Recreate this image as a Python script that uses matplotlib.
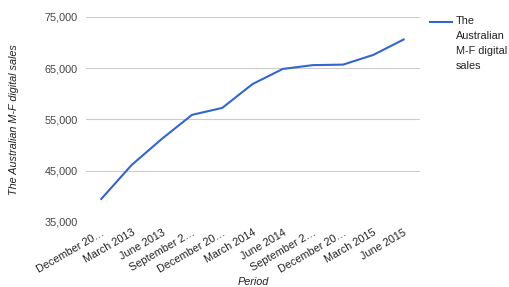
import matplotlib
matplotlib.use('Agg')
import matplotlib.pyplot as plt
from matplotlib.lines import Line2D

periods = ['December 20…', 'March 2013', 'June 2013', 'September 2…', 'December 20…',
           'March 2014', 'June 2014', 'September 2…', 'December 20…', 'March 2015', 'June 2015']
sales = [39500, 46100, 51200, 55900, 57250, 61900, 64850, 65600, 65700, 67600, 70600]
yticks = [35000, 45000, 55000, 65000, 75000]
series_name = 'The\nAustralian\nM-F digital\nsales'

plt.rcParams['font.family'] = ['Liberation Sans', 'DejaVu Sans']
fs = 7.8

W, H = 510, 287
fig = plt.figure(figsize=(W / 100, H / 100), dpi=100)
ax = fig.add_axes([0.169, 0.2265, 0.655, 0.7145])

x = list(range(len(periods)))
ax.plot(x, sales, color='#3366cc', linewidth=1.5)

ax.set_xlim(-0.5, 10.55)
ax.set_ylim(35000, 75000)
ax.set_yticks(yticks)
ax.set_yticklabels(['{:,}'.format(v) for v in yticks], fontsize=fs, color='#444444')
ax.set_xticks(x)
ax.set_xticklabels(periods, rotation=30, ha='right', rotation_mode='anchor',
                   fontsize=fs, color='#222222')
ax.tick_params(axis='y', length=0, pad=6)
ax.tick_params(axis='x', length=0, pad=4)
ax.grid(axis='y', color='#cccccc', linewidth=0.8)
ax.set_axisbelow(True)
for s in ax.spines.values():
    s.set_visible(False)

ax.set_xlabel('Period', fontsize=fs, style='italic', color='#222222')
ax.xaxis.set_label_coords(0.5, -0.27)
ax.set_ylabel('The Australian M-F digital sales', fontsize=fs, style='italic',
              color='#222222')
ax.yaxis.set_label_coords(-0.2, 0.5)

# legend drawn by hand: handle beside the first line of the wrapped name
fig.add_artist(Line2D([430 / W, 452 / W], [1 - 22 / H, 1 - 22 / H],
                      color='#3366cc', linewidth=1.5))
fig.text(456 / W, 1 - 16.5 / H, series_name, fontsize=fs, color='#222222',
         va='top', ha='left', linespacing=1.6)

fig.savefig('out.png', dpi=100)
